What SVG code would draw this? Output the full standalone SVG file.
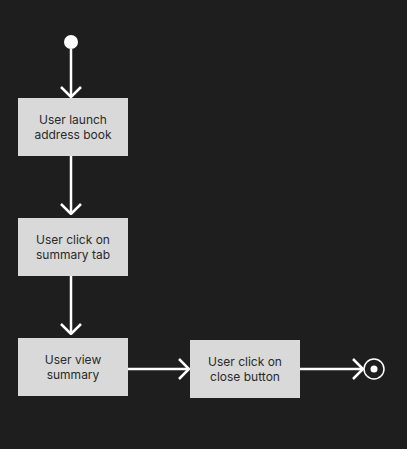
<svg xmlns="http://www.w3.org/2000/svg" width="407" height="449" viewBox="0 0 407 449">
<style>
.box{fill:#d9d9d9}
.lbl{font-family:Inter,"Liberation Sans",sans-serif;font-size:12px;fill:#2a2a2a;text-anchor:middle}
.edge{stroke:#ffffff;stroke-width:2.5;fill:none}
</style>
<defs>
<marker id="arr" viewBox="0 0 12 22" refX="11" refY="11" markerWidth="12" markerHeight="22" markerUnits="userSpaceOnUse" orient="auto">
<path d="M1,1 L11,11 L1,21" fill="none" stroke="#ffffff" stroke-width="2.5"/>
</marker>
</defs>
<rect width="407" height="449" fill="#1e1e1e"/>
<g id="start"><circle cx="71" cy="42" r="7" fill="#ffffff"/></g>
<g id="n1"><rect class="box" x="18" y="98" width="110" height="58"/><text class="lbl" x="73" y="124">User launch</text><text class="lbl" x="73" y="139">address book</text></g>
<g id="n2"><rect class="box" x="18" y="218" width="110" height="58"/><text class="lbl" x="73" y="244">User click on</text><text class="lbl" x="73" y="259">summary tab</text></g>
<g id="n3"><rect class="box" x="18" y="338" width="110" height="58"/><text class="lbl" x="73" y="364">User view</text><text class="lbl" x="73" y="379">summary</text></g>
<g id="n4"><rect class="box" x="190" y="340" width="110" height="58"/><text class="lbl" x="245" y="366">User click on</text><text class="lbl" x="245" y="381">close button</text></g>
<g id="end"><circle cx="374" cy="369" r="10" fill="none" stroke="#ffffff" stroke-width="1.5"/><circle cx="374" cy="369" r="3.5" fill="#ffffff"/></g>
<g id="edges">
<line class="edge" x1="71" y1="49" x2="71" y2="97" marker-end="url(#arr)"/>
<line class="edge" x1="71" y1="156" x2="71" y2="214" marker-end="url(#arr)"/>
<line class="edge" x1="71" y1="276" x2="71" y2="334" marker-end="url(#arr)"/>
<line class="edge" x1="128" y1="369" x2="189" y2="369" marker-end="url(#arr)"/>
<line class="edge" x1="300" y1="369" x2="363" y2="369" marker-end="url(#arr)"/>
</g>
</svg>
